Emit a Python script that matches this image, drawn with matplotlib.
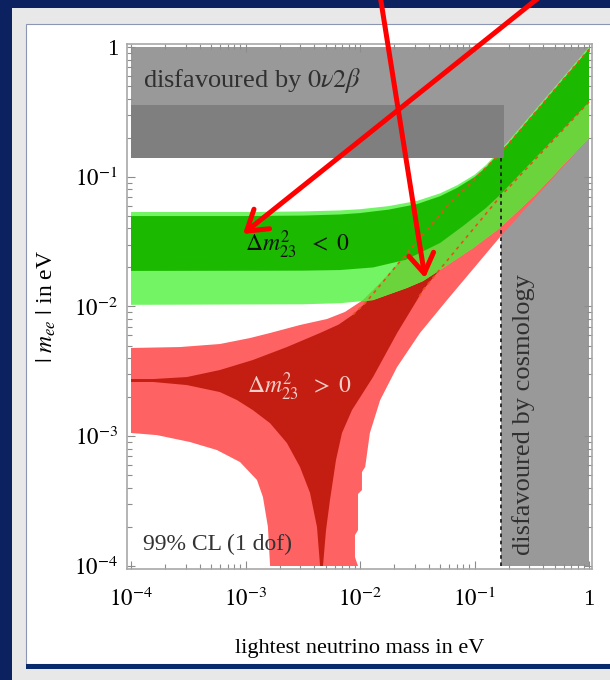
import matplotlib
matplotlib.use('Agg')
import matplotlib.pyplot as plt
from matplotlib.patches import Rectangle
from matplotlib.ticker import NullFormatter
import numpy as np

# ---------------- data ----------------
# Inverted ordering (Delta m^2_23 < 0): outer (light green) band
ih_outer_m_up = [1e-4, 1e-3, 3.16e-3, 6.68e-3, 1e-2, 1.78e-2, 3.16e-2, 5.01e-2, 7.08e-2, 0.1, 0.126,
                 0.158, 0.2, 1.0]
ih_outer_ee_up = [0.0535, 0.0535, 0.0540, 0.0550, 0.0562, 0.0594, 0.0652, 0.0745, 0.0861, 0.1035,
                  0.123, 0.152, 0.190, 1.0]
ih_outer_m_lo = [1e-4, 3.16e-3, 6.68e-3, 1.30e-2, 2.57e-2, 3.55e-2, 5.0e-2, 9.70e-2, 0.167, 0.337, 1.0]
ih_outer_ee_lo = [0.0103, 0.0104, 0.0106, 0.0112, 0.0139, 0.0157, 0.0191, 0.0282, 0.0403, 0.0723, 0.199]
# inner (dark green) band
ih_inner_m_up = [1e-4, 1e-3, 3.16e-3, 6.68e-3, 1e-2, 1.78e-2, 3.16e-2, 5.01e-2, 7.08e-2, 0.1, 0.126,
                 0.158, 0.2, 1.0]
ih_inner_ee_up = [0.0498, 0.0498, 0.0502, 0.0512, 0.0525, 0.0558, 0.0616, 0.0708, 0.0822, 0.0994,
                  0.118, 0.147, 0.183, 0.965]
ih_inner_m_lo = [1e-4, 3.16e-3, 6.68e-3, 1.30e-2, 2.51e-2, 5.01e-2, 7.94e-2, 0.126, 0.167, 1.0]
ih_inner_ee_lo = [0.0188, 0.0189, 0.0191, 0.0200, 0.0229, 0.0309, 0.0417, 0.0575, 0.0724, 0.377]

# Normal ordering (Delta m^2_23 > 0): outer (light red) region
nh_outer_m_up = [1e-4, 2.68e-4, 5.98e-4, 1.09e-3, 1.64e-3, 2.99e-3, 5.15e-3, 7.39e-3, 1.06e-2,
                 1.59e-2, 2.57e-2, 3.85e-2, 6.11e-2, 8.59e-2, 0.119, 0.167, 1.0]
nh_outer_ee_up = [4.79e-3, 4.87e-3, 5.14e-3, 5.71e-3, 6.25e-3, 7.20e-3, 8.01e-3, 9.08e-3, 0.0112,
                  0.0160, 0.0258, 0.0389, 0.0628, 0.0834, 0.112, 0.150, 0.96]
nh_outer_m_right = [1.0, 0.167, 5.75e-2, 3.34e-2, 2.11e-2, 1.50e-2, 1.22e-2, 1.11e-2, 1.04e-2,
                    1.04e-2, 9.61e-3, 9.61e-3, 9.04e-3, 9.04e-3, 9.61e-3]
nh_outer_ee_right = [0.199, 0.0343, 0.0112, 6.25e-3, 3.42e-3, 1.90e-3, 1.06e-3, 5.80e-4, 5.30e-4,
                     3.85e-4, 3.59e-4, 1.89e-4, 1.73e-4, 1.17e-4, 1e-4]
nh_outer_m_left = [1.64e-3, 1.57e-3, 1.42e-3, 1.26e-3, 8.95e-4, 5.63e-4, 3.27e-4, 1.69e-4, 1e-4]
nh_outer_ee_left = [1e-4, 2.00e-4, 3.40e-4, 4.60e-4, 6.33e-4, 7.83e-4, 9.03e-4, 1.02e-3, 1.06e-3]
# inner (dark red) region
nh_inner_m_up = [1e-4, 1.56e-4, 3.08e-4, 5.98e-4, 1.16e-3, 2.30e-3, 4.48e-3, 6.5e-3, 8.69e-3, 1.11e-2,
                 1.59e-2, 2.57e-2, 3.85e-2, 6.11e-2, 8.59e-2, 0.119, 0.167, 1.0]
nh_inner_ee_up = [2.76e-3, 2.76e-3, 2.86e-3, 3.24e-3, 3.87e-3, 4.87e-3, 6.25e-3, 7.25e-3, 8.65e-3, 0.0106,
                  0.0155, 0.0258, 0.0389, 0.0628, 0.0834, 0.112, 0.150, 0.96]
nh_inner_m_right = [1.0, 0.167, 7.47e-2, 3.55e-2, 3.15e-2, 2.11e-2, 1.30e-2, 8.51e-3, 6.96e-3,
                    6.17e-3, 5.47e-3, 5.05e-3, 4.75e-3]
nh_inner_ee_right = [0.377, 0.0700, 0.0298, 0.0134, 0.0112, 6.25e-3, 2.86e-3, 1.59e-3, 1.06e-3,
                     6.56e-4, 3.23e-4, 1.89e-4, 1e-4]
nh_inner_m_left = [4.48e-3, 4.21e-3, 3.66e-3, 2.99e-3, 2.30e-3, 1.64e-3, 1.16e-3, 8.43e-4, 5.98e-4,
                   3.08e-4, 1.56e-4, 1e-4]
nh_inner_ee_left = [1e-4, 2.00e-4, 3.66e-4, 5.80e-4, 8.87e-4, 1.26e-3, 1.59e-3, 1.90e-3, 2.19e-3,
                    2.48e-3, 2.62e-3, 2.62e-3]

# excluded / disfavoured regions
bb_excluded_ee = 0.357            # m_ee above this: disfavoured by 0v2b
bb_uncertain_ee = [0.1395, 0.357]  # nuclear-matrix-element uncertainty band
bb_uncertain_m_max = 0.181
cosmo_m = 0.170                   # lightest mass above this: disfavoured by cosmology
range_min, range_max = 1e-4, 1.0

major_ticks = [1e-4, 1e-3, 1e-2, 1e-1, 1.0]
tick_labels = ['$10^{-4}$', '$10^{-3}$', '$10^{-2}$', '$10^{-1}$', '1']

# ---------------- style ----------------
plt.rcParams['font.family'] = 'serif'
plt.rcParams['font.serif'] = ['Liberation Serif', 'DejaVu Serif']
plt.rcParams['mathtext.fontset'] = 'stix'

W, H = 610, 680
fig = plt.figure(figsize=(W / 100, H / 100), dpi=100, facecolor='#0c2160')
fig.patches.append(Rectangle((12 / W, 0), 1, (H - 8) / H, transform=fig.transFigure,
                             facecolor='#e8e8e8', edgecolor='none', zorder=-3))
fig.patches.append(Rectangle((26 / W, (H - 664) / H), 1, (664 - 24) / H, transform=fig.transFigure,
                             facecolor='white', edgecolor='#8a96b4', lw=0.8, zorder=-2))
fig.patches.append(Rectangle((26 / W, (H - 669) / H), 1, 5 / H, transform=fig.transFigure,
                             facecolor='#0a2a6e', edgecolor='none', zorder=-1))

ax = fig.add_axes([127 / W, 1 - 569 / H, 465 / W, 525 / H])
ax.set_xscale('log')
ax.set_yscale('log')
ax.set_xlim(10 ** (-4 - 4 / 114.5), 10 ** (3 / 114.5))
ax.set_ylim(10 ** (-4 - 3 / 129.75), 10 ** (3 / 129.75))

LGRAY, DGRAY = '#999999', '#7f7f7f'
LRED, DRED = '#ff6262', '#c41e12'
LGREEN, DGREEN, OLIVE = '#72f464', '#1bba00', '#6bd43d'

# light gray regions
ax.fill([range_min, range_max, range_max, range_min],
        [bb_excluded_ee, bb_excluded_ee, range_max, range_max], color=LGRAY, lw=0, zorder=1)
ax.fill([cosmo_m, range_max, range_max, cosmo_m],
        [range_min, range_min, range_max, range_max], color=LGRAY, lw=0, zorder=1)

# normal ordering
nh_outer_x = nh_outer_m_up + nh_outer_m_right + nh_outer_m_left
nh_outer_y = nh_outer_ee_up + nh_outer_ee_right + nh_outer_ee_left
ax.fill(nh_outer_x, nh_outer_y, color=LRED, lw=0, zorder=2)
ax.fill(nh_inner_m_up + nh_inner_m_right + nh_inner_m_left,
        nh_inner_ee_up + nh_inner_ee_right + nh_inner_ee_left, color=DRED, lw=0, zorder=3)

# inverted ordering
ih3 = ax.fill(ih_outer_m_up + ih_outer_m_lo[::-1], ih_outer_ee_up + ih_outer_ee_lo[::-1],
              color=LGREEN, lw=0, zorder=4)[0]
ov = ax.fill(nh_outer_x, nh_outer_y, color=OLIVE, lw=0, zorder=4.5)[0]
ov.set_clip_path(ih3)
ax.fill(ih_inner_m_up + ih_inner_m_lo[::-1], ih_inner_ee_up + ih_inner_ee_lo[::-1],
        color=DGREEN, lw=0, zorder=5)

# dashed boundaries of the normal-ordering inner region over the green bands
mA = np.array(nh_inner_m_up); eA = np.array(nh_inner_ee_up)
selA = mA >= 8.69e-3
ax.plot(mA[selA], eA[selA], color='#e8501e', lw=1.2, ls=(0, (2, 2.5)), zorder=6)
mB = np.array(nh_inner_m_right); eB = np.array(nh_inner_ee_right)
selB = mB >= 3.15e-2
ax.plot(mB[selB], eB[selB], color='#e8501e', lw=1.2, ls=(0, (2, 2.5)), zorder=6)

# dark gray band
ax.fill([range_min, bb_uncertain_m_max, bb_uncertain_m_max, range_min],
        [bb_uncertain_ee[0], bb_uncertain_ee[0], bb_uncertain_ee[1], bb_uncertain_ee[1]],
        color=DGRAY, lw=0, zorder=7)
ax.plot([cosmo_m, cosmo_m], [range_min, bb_uncertain_ee[0]], color='#222222', lw=1.3,
        ls=(0, (2, 2)), zorder=8)

# texts
ax.text(1.27e-4, 0.492, r'disfavoured by $0\nu2\beta$', fontsize=19, color='#303030',
        ha='left', va='baseline', zorder=9)
ax.text(0.27, 1.22e-4, 'disfavoured by cosmology', fontsize=19, color='#303030',
        rotation=90, ha='center', va='bottom', zorder=9)
ax.text(1.27e-4, 1.33e-4, '99% CL (1 dof)', fontsize=17, color='#333333',
        ha='left', va='baseline', zorder=9)
ax.text(9.9e-4, 0.0263, r'$\Delta m^2_{23}\ \ <\ 0$', fontsize=17, color='#111111',
        ha='left', va='baseline', zorder=9)
ax.text(1.03e-3, 2.12e-3, r'$\Delta m^2_{23}\ \ >\ 0$', fontsize=17, color='#f2cfc8',
        ha='left', va='baseline', zorder=9)

# axes, ticks
minor = [k * 10.0 ** e for e in range(-4, 0) for k in range(2, 10)]
ax.set_xticks(major_ticks, tick_labels)
ax.set_yticks(major_ticks, tick_labels)
ax.set_xticks(minor, minor=True)
ax.set_yticks(minor, minor=True)
ax.xaxis.set_minor_formatter(NullFormatter())
ax.yaxis.set_minor_formatter(NullFormatter())
ax.tick_params(which='both', direction='in', top=True, right=True, color='#8c8c8c', width=0.8)
ax.tick_params(which='major', length=6, labelsize=16.5)
ax.tick_params(which='minor', length=3.5)
ax.tick_params(axis='x', which='major', pad=22)
ax.tick_params(axis='y', which='major', pad=6.5)
for lbl in ax.get_xticklabels():
    lbl.set_verticalalignment('center')
for sp in ax.spines.values():
    sp.set_color('#a8a8a8')
    sp.set_linewidth(1.2)

ax.set_xlabel('lightest neutrino mass in eV', fontsize=16)
ax.xaxis.set_label_coords(0.5, -0.133)
ax.set_ylabel(r'$|\ m_{ee}\ |$ in eV', fontsize=17)
ax.yaxis.label.set_va('center')
ax.yaxis.set_label_coords(-0.174, 0.5)

# red annotation arrows
for (x0, y0), (x1, y1) in [((380, H + 5), (425, H - 278)), ((542, H + 5), (243, H - 234))]:
    ax.annotate('', xy=(x1, y1), xycoords='figure pixels', xytext=(x0, y0),
                textcoords='figure pixels', annotation_clip=False, zorder=20,
                arrowprops=dict(arrowstyle='->,head_length=0.7,head_width=0.45', color='#ff0000',
                                lw=3.6, shrinkA=0, shrinkB=0, mutation_scale=20))

fig.savefig('out.png', dpi=100, facecolor=fig.get_facecolor())
